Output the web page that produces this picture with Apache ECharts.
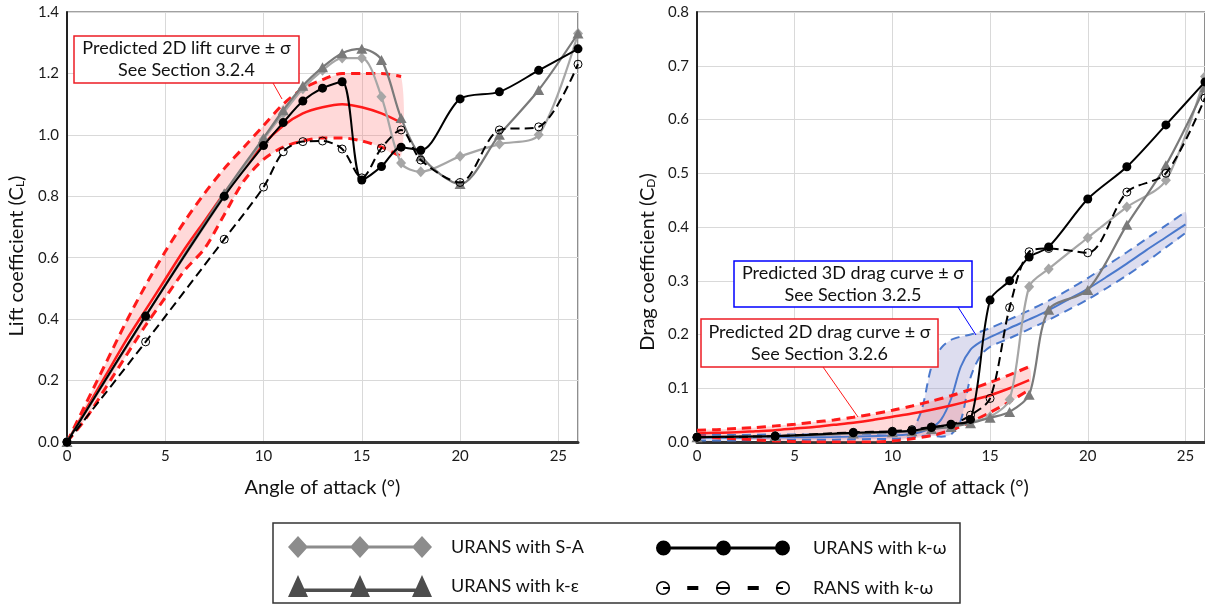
<!DOCTYPE html>
<html>
<head>
<meta charset="utf-8">
<script src="https://cdn.jsdelivr.net/npm/echarts@6/dist/echarts.min.js"></script>
<style>
html,body{margin:0;padding:0;background:#fff;}
#chart{width:1205px;height:604px;}
</style>
</head>
<body>
<div id="chart"></div>
<script>
// ---------- DATA ----------
const alpha = [0, 4, 8, 10, 11, 12, 13, 14, 15, 16, 17, 18, 20, 22, 24, 26];

// Lift coefficient (CFD)
const clSA     = [0, 0.41, 0.80, 0.985, 1.07, 1.15, 1.21, 1.25, 1.25, 1.124, 0.908, 0.88, 0.93, 0.97, 1.00, 1.33];
const clKE     = [0, 0.41, 0.81, 0.99, 1.08, 1.16, 1.22, 1.266, 1.28, 1.244, 1.055, 0.93, 0.84, 1.00, 1.146, 1.33];
const clKW     = [0, 0.41, 0.80, 0.965, 1.04, 1.11, 1.152, 1.173, 0.853, 0.897, 0.96, 0.95, 1.117, 1.14, 1.21, 1.28];
const clRANS   = [0, 0.326, 0.66, 0.83, 0.945, 0.978, 0.98, 0.954, 0.86, 0.957, 1.016, 0.918, 0.845, 1.016, 1.026, 1.23];

// Drag coefficient (CFD)
const cdSA     = [0.009, 0.011, 0.016, 0.019, 0.021, 0.025, 0.030, 0.038, 0.047, 0.079, 0.289, 0.322, 0.380, 0.437, 0.487, 0.68];
const cdKE     = [0.009, 0.011, 0.016, 0.018, 0.020, 0.024, 0.028, 0.035, 0.045, 0.056, 0.088, 0.246, 0.283, 0.404, 0.515, 0.66];
const cdKW     = [0.009, 0.011, 0.017, 0.019, 0.021, 0.027, 0.033, 0.042, 0.264, 0.300, 0.344, 0.363, 0.452, 0.512, 0.590, 0.67];
const cdRANS   = [0.009, 0.011, 0.018, 0.020, 0.023, 0.028, 0.032, 0.050, 0.081, 0.250, 0.354, 0.360, 0.352, 0.465, 0.500, 0.64];

// Predicted 2D lift curve ± sigma
const liftX     = [0, 1, 2, 3, 4, 5, 6, 7, 8, 9, 10, 11, 12, 13, 14, 15, 16, 17];
const liftMean  = [0, 0.11, 0.22, 0.33, 0.43, 0.53, 0.63, 0.72, 0.81, 0.89, 0.97, 1.03, 1.07, 1.09, 1.10, 1.09, 1.07, 1.04];
const liftUpper = [0, 0.13, 0.26, 0.39, 0.51, 0.62, 0.72, 0.81, 0.89, 0.96, 1.03, 1.10, 1.15, 1.18, 1.20, 1.20, 1.20, 1.19];
const liftLower = [0, 0.08, 0.18, 0.28, 0.38, 0.47, 0.56, 0.63, 0.74, 0.85, 0.92, 0.96, 0.98, 0.99, 0.99, 0.98, 0.96, 0.93];

// Predicted 2D drag curve ± sigma
const drag2X     = [0, 1, 2, 3, 4, 5, 6, 7, 8, 9, 10, 11, 12, 13, 14, 15, 16, 17];
const drag2Mean  = [0.016, 0.017, 0.018, 0.020, 0.022, 0.025, 0.028, 0.032, 0.036, 0.041, 0.047, 0.053, 0.060, 0.068, 0.077, 0.087, 0.100, 0.115];
const drag2Upper = [0.022, 0.023, 0.025, 0.027, 0.030, 0.033, 0.037, 0.041, 0.046, 0.052, 0.059, 0.067, 0.076, 0.086, 0.098, 0.111, 0.125, 0.140];
const drag2Lower = [0.010, 0.008, 0.006, 0.004, 0.002, 0.001, 0.000, 0.000, 0.000, 0.000, 0.002, 0.006, 0.012, 0.022, 0.037, 0.055, 0.075, 0.097];

// Predicted 3D drag curve ± sigma
const drag3X     = [0, 2, 4, 6, 8, 10, 11, 11.5, 12, 12.5, 13, 13.5, 14, 14.5, 15, 16, 17, 18, 19, 20, 21, 22, 23, 24, 25];
const drag3Mean  = [0.008, 0.008, 0.009, 0.009, 0.010, 0.012, 0.015, 0.019, 0.026, 0.042, 0.080, 0.140, 0.172, 0.186, 0.195, 0.212, 0.228, 0.245, 0.265, 0.285, 0.308, 0.332, 0.357, 0.381, 0.405];
const drag3Upper = [0.013, 0.013, 0.014, 0.014, 0.015, 0.017, 0.025, 0.060, 0.140, 0.175, 0.190, 0.196, 0.200, 0.205, 0.212, 0.228, 0.245, 0.263, 0.283, 0.305, 0.329, 0.353, 0.378, 0.403, 0.428];
const drag3Lower = [0.003, 0.003, 0.004, 0.004, 0.005, 0.006, 0.008, 0.011, 0.012, 0.010, 0.014, 0.040, 0.120, 0.160, 0.177, 0.193, 0.210, 0.227, 0.246, 0.265, 0.287, 0.310, 0.335, 0.362, 0.389];

// Axis ticks / labels
const xTicks = { min: 0, max: 26, interval: 5 };
const liftTicks = { min: 0, max: 1.4, interval: 0.2 };
const dragTicks = { min: 0, max: 0.8, interval: 0.1 };

const names = {
  sa: 'URANS with S-A',
  ke: 'URANS with k-ε',
  kw: 'URANS with k-ω',
  rans: 'RANS with k-ω'
};

// ---------- STYLE ----------
const FONT = 'Lato, "Open Sans", sans-serif';
const RED = '#ff1a1a';
const BLUE = '#4a78cc';
const C_SA = '#a6a6a6';
const C_KE = '#7a7a7a';

function pairs(xs, ys) { return xs.map((x, i) => [x, ys[i]]); }

function band(xi, xs, lo, hi, fill, z) {
  return {
    type: 'custom', xAxisIndex: xi, yAxisIndex: xi, z: z, silent: true, clip: true,
    data: [[xs[0], lo[0]]], encode: { x: 0, y: 1 },
    renderItem: function (params, api) {
      if (params.dataIndex !== 0) return;
      const top = xs.map((x, i) => api.coord([x, hi[i]]));
      const bot = xs.map((x, i) => api.coord([x, lo[i]])).reverse();
      return { type: 'polygon', shape: { points: top.concat(bot), smooth: 0.25 }, style: { fill: fill } };
    }
  };
}

function bandLine(xi, xs, ys, color, width, dashed, z) {
  return {
    type: 'line', xAxisIndex: xi, yAxisIndex: xi, z: z, silent: true,
    data: pairs(xs, ys), showSymbol: false, symbol: 'none', smooth: 0.3,
    lineStyle: { color: color, width: width, type: dashed ? [9, 6] : 'solid' }
  };
}

function cfd(xi, name, ys, kind, z) {
  const s = { type: 'line', name: name, xAxisIndex: xi, yAxisIndex: xi, z: z, data: pairs(alpha, ys), smooth: 0.3, silent: true };
  if (kind === 'sa') {
    Object.assign(s, { symbol: 'diamond', symbolSize: [10, 11], itemStyle: { color: C_SA }, lineStyle: { color: C_SA, width: 2.2 } });
  } else if (kind === 'ke') {
    Object.assign(s, { symbol: 'triangle', symbolSize: [11, 10], itemStyle: { color: C_KE }, lineStyle: { color: C_KE, width: 2.2 } });
  } else if (kind === 'kw') {
    Object.assign(s, { symbol: 'circle', symbolSize: 9, itemStyle: { color: '#000' }, lineStyle: { color: '#000', width: 2 } });
  } else {
    Object.assign(s, { symbol: 'circle', symbolSize: 8, itemStyle: { color: 'rgba(255,255,255,0)', borderColor: '#000', borderWidth: 1 }, lineStyle: { color: '#000', width: 2, type: [9, 5] } });
  }
  return s;
}

function xAxisFor(gi) {
  return {
    type: 'value', gridIndex: gi, min: xTicks.min, max: xTicks.max, interval: xTicks.interval,
    name: 'Angle of attack (°)', nameLocation: 'middle', nameGap: 36,
    nameTextStyle: { fontFamily: FONT, fontSize: 20, color: '#111' },
    axisLine: { show: true, onZero: false, lineStyle: { color: '#333', width: 3 } },
    axisTick: { show: false },
    axisLabel: { fontFamily: FONT, fontSize: 15, color: '#1a1a1a', margin: 7, showMaxLabel: false },
    splitLine: { show: true, lineStyle: { color: '#d9d9d9', width: 1 } }
  };
}

function yAxisFor(gi, ticks, main, sub, gap, shiftPad) {
  return {
    type: 'value', gridIndex: gi, min: ticks.min, max: ticks.max, interval: ticks.interval,
    name: '{a|' + main + ' (C}{s|' + sub + '}{a|)}', nameLocation: 'middle', nameGap: gap, nameRotate: 90,
    nameTextStyle: {
      padding: [0, shiftPad, 0, 0],
      rich: {
        a: { fontFamily: FONT, fontSize: 20, color: '#111' },
        s: { fontFamily: FONT, fontSize: 12, color: '#111', verticalAlign: 'bottom', padding: [0, 0, 1, 0] }
      }
    },
    axisLine: { show: true, onZero: false, lineStyle: { color: '#222', width: 2 } },
    axisTick: { show: false },
    axisLabel: { fontFamily: FONT, fontSize: 15, color: '#1a1a1a', margin: 8, formatter: v => v.toFixed(1) },
    splitLine: { show: true, lineStyle: { color: '#d9d9d9', width: 1 } }
  };
}

// legend icons (paths)
const iconSA = 'path://M10,9.5H134V12.5H10Z M0,11L10,0L20,11L10,22Z M62,11L72,0L82,11L72,22Z M124,11L134,0L144,11L134,22Z';
const iconKE = 'path://M10,13.5H134V17H10Z M0,22L10,0L20,22Z M62,22L72,0L82,22Z M124,22L134,0L144,22Z';
const iconKW = 'path://M7,6H127V9H7Z M0,7.5A7.5,7.5 0 1,1 15,7.5A7.5,7.5 0 1,1 0,7.5Z M60,7.5A7.5,7.5 0 1,1 75,7.5A7.5,7.5 0 1,1 60,7.5Z M119,7.5A7.5,7.5 0 1,1 134,7.5A7.5,7.5 0 1,1 119,7.5Z';
const iconRANS = 'path://' +
  'M0.5,7.5A7,7 0 1,1 14.5,7.5A7,7 0 1,1 0.5,7.5Z M2,7.5A5.5,5.5 0 1,0 13,7.5A5.5,5.5 0 1,0 2,7.5Z M7.5,6.5H13.5V8.5H7.5Z ' +
  'M60,7.5A7,7 0 1,1 74,7.5A7,7 0 1,1 60,7.5Z M61.5,7.5A5.5,5.5 0 1,0 72.5,7.5A5.5,5.5 0 1,0 61.5,7.5Z M61,6.5H73V8.5H61Z ' +
  'M119.5,7.5A7,7 0 1,1 133.5,7.5A7,7 0 1,1 119.5,7.5Z M121,7.5A5.5,5.5 0 1,0 132,7.5A5.5,5.5 0 1,0 121,7.5Z M120.5,6.5H126.5V8.5H120.5Z ' +
  'M31.5,5.5H42.5V9.5H31.5Z M91.5,5.5H102.5V9.5H91.5Z';

const legendText = { fontFamily: FONT, fontSize: 18, color: '#111' };

const option = {
  animation: false,
  backgroundColor: '#fff',
  grid: [
    { left: 67, top: 12, width: 511, height: 430, show: true, borderColor: '#444', borderWidth: 1.2, backgroundColor: 'transparent' },
    { left: 697, top: 12, width: 508, height: 430, show: true, borderColor: '#444', borderWidth: 1.2, backgroundColor: 'transparent' }
  ],
  xAxis: [xAxisFor(0), xAxisFor(1)],
  yAxis: [
    yAxisFor(0, liftTicks, 'Lift coefficient', 'L', 40, 58),
    yAxisFor(1, dragTicks, 'Drag coefficient', 'D', 39, 70)
  ],
  legend: [
    {
      left: 288, top: 536, orient: 'vertical', itemWidth: 144, itemHeight: 22, itemGap: 17, padding: 0,
      selectedMode: false, itemStyle: { borderWidth: 0 },
      textStyle: Object.assign({ padding: [0, 0, 0, 14] }, legendText),
      data: [
        { name: names.sa, icon: iconSA, itemStyle: { color: '#8c8c8c', borderWidth: 0 } },
        { name: names.ke, icon: iconKE, itemStyle: { color: '#4d4d4d', borderWidth: 0 } }
      ]
    },
    {
      left: 656, top: 539, orient: 'vertical', itemWidth: 134, itemHeight: 15, itemGap: 22, padding: 0,
      selectedMode: false, itemStyle: { borderWidth: 0 },
      textStyle: Object.assign({ padding: [0, 0, 0, 18] }, legendText),
      data: [
        { name: names.kw, icon: iconKW, itemStyle: { color: '#000', borderWidth: 0 } },
        { name: names.rans, icon: iconRANS, itemStyle: { color: '#000', borderWidth: 0 } }
      ]
    }
  ],
  graphic: [
    { type: 'rect', z: 100, shape: { x: 273, y: 523, width: 687, height: 80 }, style: { fill: 'none', stroke: '#333', lineWidth: 1.5 } },
    // lift annotation
    { type: 'line', z: 100, shape: { x1: 273, y1: 83, x2: 282, y2: 99 }, style: { stroke: RED, lineWidth: 1 } },
    { type: 'rect', z: 100, shape: { x: 74, y: 36, width: 225, height: 47 }, style: { fill: '#fff', stroke: '#ed1c24', lineWidth: 1.5 } },
    { type: 'text', z: 101, style: { x: 186.5, y: 59.5, text: 'Predicted 2D lift curve ± σ\nSee Section 3.2.4', align: 'center', verticalAlign: 'middle', fontFamily: FONT, fontSize: 18, lineHeight: 22, fill: '#111' } },
    // 3D drag annotation
    { type: 'line', z: 100, shape: { x1: 958, y1: 307, x2: 976, y2: 335 }, style: { stroke: '#0000ff', lineWidth: 1 } },
    { type: 'rect', z: 100, shape: { x: 734, y: 261, width: 238, height: 46 }, style: { fill: '#fff', stroke: '#0000ff', lineWidth: 1.5 } },
    { type: 'text', z: 101, style: { x: 853, y: 284, text: 'Predicted 3D drag curve ± σ\nSee Section 3.2.5', align: 'center', verticalAlign: 'middle', fontFamily: FONT, fontSize: 18, lineHeight: 22, fill: '#111' } },
    // 2D drag annotation
    { type: 'line', z: 100, shape: { x1: 823, y1: 367, x2: 858, y2: 417 }, style: { stroke: RED, lineWidth: 1 } },
    { type: 'rect', z: 100, shape: { x: 701, y: 319, width: 237, height: 48 }, style: { fill: '#fff', stroke: '#ed1c24', lineWidth: 1.5 } },
    { type: 'text', z: 101, style: { x: 819.5, y: 343, text: 'Predicted 2D drag curve ± σ\nSee Section 3.2.6', align: 'center', verticalAlign: 'middle', fontFamily: FONT, fontSize: 18, lineHeight: 22, fill: '#111' } }
  ],
  series: [
    // lift panel
    band(0, liftX, liftLower, liftUpper, 'rgba(255,120,120,0.28)', 1),
    bandLine(0, liftX, liftUpper, RED, 3, true, 2),
    bandLine(0, liftX, liftLower, RED, 3, true, 2),
    bandLine(0, liftX, liftMean, RED, 2.5, false, 2),
    cfd(0, names.sa, clSA, 'sa', 3),
    cfd(0, names.ke, clKE, 'ke', 4),
    cfd(0, names.rans, clRANS, 'rans', 5),
    cfd(0, names.kw, clKW, 'kw', 6),
    // drag panel
    band(1, drag3X, drag3Lower, drag3Upper, 'rgba(150,150,205,0.32)', 1),
    bandLine(1, drag3X, drag3Upper, BLUE, 2, true, 2),
    bandLine(1, drag3X, drag3Lower, BLUE, 2, true, 2),
    bandLine(1, drag3X, drag3Mean, BLUE, 2, false, 2),
    band(1, drag2X, drag2Lower, drag2Upper, 'rgba(255,120,120,0.28)', 1),
    bandLine(1, drag2X, drag2Upper, RED, 3, true, 2),
    bandLine(1, drag2X, drag2Lower, RED, 3, true, 2),
    bandLine(1, drag2X, drag2Mean, RED, 2.5, false, 2),
    cfd(1, names.sa, cdSA, 'sa', 3),
    cfd(1, names.ke, cdKE, 'ke', 4),
    cfd(1, names.rans, cdRANS, 'rans', 5),
    cfd(1, names.kw, cdKW, 'kw', 6)
  ]
};

const chart = echarts.init(document.getElementById('chart'), null, { renderer: 'canvas' });
chart.setOption(option);
</script>
</body>
</html>
